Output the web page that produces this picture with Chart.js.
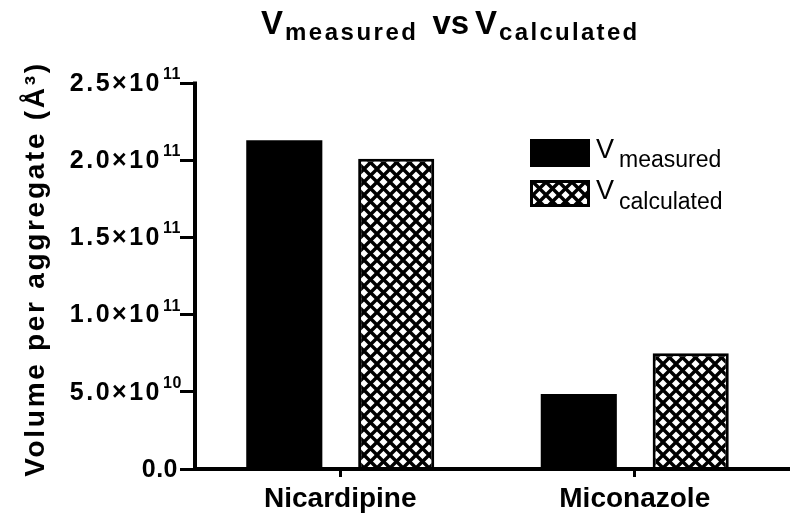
<!DOCTYPE html>
<html>
<head>
<meta charset="utf-8">
<script src="https://cdn.jsdelivr.net/npm/chart.js@4/dist/chart.umd.min.js"></script>
<style>
  html, body { margin: 0; padding: 0; background: #fff; }
  #wrap { width: 793px; height: 520px; position: relative; }
</style>
</head>
<body>
<div id="wrap"><canvas id="c" width="793" height="520"></canvas></div>
<script>
// ---- data ----
const categories = ['Nicardipine', 'Miconazole'];
const vMeasured = [2.13e11, 4.85e10];
const vCalculated = [2.01e11, 7.5e10];
const seriesNames = ['measured', 'calculated'];
const yTickValues = [0, 5e10, 1e11, 1.5e11, 2e11, 2.5e11];
const yTickMantissa = ['0.0', '5.0×10', '1.0×10', '1.5×10', '2.0×10', '2.5×10'];
const yTickExponent = ['', '10', '11', '11', '11', '11'];
const yAxisTitle = 'Volume per aggregate (Å³)';
const titleParts = ['V', 'measured', 'vs', 'V', 'calculated'];

const FONT = "'Liberation Sans', Arial, sans-serif";

// hatch pattern
function makeHatch() {
  const s = 13;
  const c = document.createElement('canvas');
  c.width = s; c.height = s;
  const g = c.getContext('2d');
  g.fillStyle = '#fff';
  g.fillRect(0, 0, s, s);
  g.strokeStyle = '#000';
  g.lineWidth = 3.4;
  g.lineCap = 'square';
  for (const k of [-s, 0, s]) {
    g.beginPath(); g.moveTo(k, 0); g.lineTo(k + s, s); g.stroke();
    g.beginPath(); g.moveTo(k + s, 0); g.lineTo(k, s); g.stroke();
  }
  return c;
}
const ctx0 = document.getElementById('c').getContext('2d');
const hatch = ctx0.createPattern(makeHatch(), 'repeat');

const overlay = {
  id: 'overlay',
  afterDraw(chart) {
    const ctx = chart.ctx;
    const a = chart.chartArea;
    const ys = chart.scales.y;
    ctx.save();
    // axis lines
    ctx.strokeStyle = '#000';
    ctx.lineWidth = 4;
    const yTop = ys.getPixelForValue(yTickValues[yTickValues.length - 1]);
    ctx.beginPath();
    ctx.moveTo(a.left + 2, yTop - 1.5);
    ctx.lineTo(a.left + 2, a.bottom + 2);
    ctx.stroke();
    ctx.beginPath();
    ctx.moveTo(a.left, a.bottom);
    ctx.lineTo(790, a.bottom);
    ctx.stroke();

    // y tick labels with superscripts
    ctx.fillStyle = '#000';
    yTickValues.forEach((v, i) => {
      const py = ys.getPixelForValue(v);
      if (!yTickExponent[i]) {
        ctx.font = 'bold 25px ' + FONT;
        ctx.letterSpacing = '0.5px';
        ctx.textAlign = 'right';
        ctx.textBaseline = 'middle';
        ctx.fillText(yTickMantissa[i], 178, py + 1);
        return;
      }
      ctx.font = 'bold 25px ' + FONT;
      ctx.letterSpacing = '2.5px';
      ctx.textAlign = 'right';
      ctx.textBaseline = 'middle';
      ctx.fillText(yTickMantissa[i], 162, py + 1);
      ctx.font = 'bold 16px ' + FONT;
      ctx.letterSpacing = '0.5px';
      ctx.textAlign = 'left';
      ctx.textBaseline = 'alphabetic';
      ctx.fillText(yTickExponent[i], 163, py - 4);
    });

    // y axis title
    ctx.save();
    ctx.translate(44, 269);
    ctx.rotate(-Math.PI / 2);
    ctx.font = 'bold 28px ' + FONT;
    ctx.letterSpacing = '2.7px';
    ctx.textAlign = 'center';
    ctx.textBaseline = 'alphabetic';
    ctx.fillText(yAxisTitle, 0, 0);
    ctx.restore();

    // title
    ctx.textAlign = 'left';
    ctx.textBaseline = 'alphabetic';
    let x = 261;
    const big = 'bold 33px ' + FONT, small = 'bold 24px ' + FONT;
    const pieces = [
      [titleParts[0], big, '0px', 34, 2],
      [titleParts[1], small, '2.5px', 40, 14],
      [titleParts[2], big, '0px', 34, 6],
      [titleParts[3], big, '0px', 34, 2],
      [titleParts[4], small, '2.3px', 40, 0]
    ];
    pieces.forEach(p => {
      ctx.font = p[1];
      ctx.letterSpacing = p[2];
      ctx.fillText(p[0], x, p[3]);
      x += ctx.measureText(p[0]).width + p[4];
    });

    // legend
    ctx.letterSpacing = '0px';
    ctx.fillStyle = '#000';
    ctx.fillRect(530, 139, 60, 28);
    ctx.fillStyle = hatch;
    ctx.fillRect(530, 180, 60, 27);
    ctx.strokeStyle = '#000';
    ctx.lineWidth = 3;
    ctx.strokeRect(531.5, 181.5, 57, 24);
    ctx.fillStyle = '#000';
    ctx.font = '27px ' + FONT;
    ctx.fillText('V', 596, 158);
    ctx.fillText('V', 596, 199);
    ctx.font = '23px ' + FONT;
    ctx.fillText(seriesNames[0], 619, 167);
    ctx.fillText(seriesNames[1], 619, 209);
    ctx.restore();
  }
};

new Chart(document.getElementById('c'), {
  type: 'bar',
  data: {
    labels: categories,
    datasets: [
      { label: 'V' + seriesNames[0], data: vMeasured, backgroundColor: '#000', borderWidth: 0,
        categoryPercentage: 0.76, barPercentage: 0.68 },
      { label: 'V' + seriesNames[1], data: vCalculated, backgroundColor: hatch, borderColor: '#000', borderWidth: 3,
        categoryPercentage: 0.76, barPercentage: 0.68 }
    ]
  },
  options: {
    responsive: false,
    animation: false,
    devicePixelRatio: 1,
    layout: { padding: { left: 0, top: 83, right: 11, bottom: 0 } },
    plugins: { legend: { display: false }, title: { display: false }, tooltip: { enabled: false } },
    scales: {
      x: {
        border: { display: false },
        grid: { display: true, drawOnChartArea: false, drawTicks: true, tickLength: 8, lineWidth: 3, color: '#000', offset: false },
        ticks: { color: '#000', font: { family: FONT, size: 28, weight: 'bold' }, padding: 5, maxRotation: 0 },
        afterFit: s => { s.height = 51; }
      },
      y: {
        min: 0, max: 2.5e11,
        border: { display: false },
        grid: { display: true, drawOnChartArea: false, drawTicks: true, tickLength: 13, lineWidth: 3, color: '#000' },
        ticks: { display: false, stepSize: 5e10 },
        afterFit: s => { s.width = 193; }
      }
    }
  },
  plugins: [overlay]
});
</script>
</body>
</html>
